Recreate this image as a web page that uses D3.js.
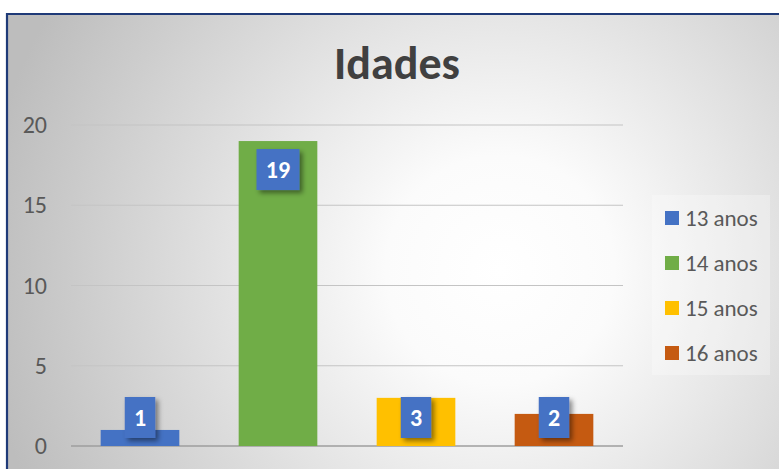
<!DOCTYPE html>
<html>
<head>
<meta charset="utf-8">
<script src="https://cdn.jsdelivr.net/npm/d3@7"></script>
<style>
  body { margin: 0; background: #fff; }
  #chart { width: 779px; height: 469px; overflow: hidden; }
  text { font-family: Carlito, "Liberation Sans", "Open Sans", sans-serif; }
</style>
</head>
<body>
<div id="chart"></div>
<script>
// chart data
var categories = ["13 anos", "14 anos", "15 anos", "16 anos"];
var values = [1, 19, 3, 2];
var colors = ["#4472C4", "#70AD47", "#FFC000", "#C55A11"];
var yTicks = [0, 5, 10, 15, 20];
var title = "Idades";

var W = 779, H = 469;
var margin = { top: 125, right: 156, bottom: 23, left: 71 };
var width = W - margin.left - margin.right,
    height = H - margin.top - margin.bottom;

var svg = d3.select("#chart")
  .append("svg")
  .attr("width", W)
  .attr("height", H);

var defs = svg.append("defs");
var grad = defs.append("radialGradient")
  .attr("id", "bg")
  .attr("gradientUnits", "userSpaceOnUse")
  .attr("cx", 500).attr("cy", 270).attr("r", 520);
grad.append("stop").attr("offset", "0%").attr("stop-color", "#ffffff");
grad.append("stop").attr("offset", "22%").attr("stop-color", "#fbfbfb");
grad.append("stop").attr("offset", "100%").attr("stop-color", "#bdbdbd");

var shadow = defs.append("filter").attr("id", "shadow")
  .attr("x", "-30%").attr("y", "-30%").attr("width", "180%").attr("height", "180%");
shadow.append("feDropShadow")
  .attr("dx", 3).attr("dy", 3).attr("stdDeviation", 2.5)
  .attr("flood-color", "#000").attr("flood-opacity", 0.45);

// background + border
svg.append("rect")
  .attr("x", 6).attr("y", 13)
  .attr("width", W + 10).attr("height", H + 10)
  .attr("fill", "url(#bg)");
svg.append("path")
  .attr("d", "M7," + (H + 5) + " V14 H" + (W + 5))
  .attr("fill", "none")
  .attr("stroke", "#1f3a78")
  .attr("stroke-width", 2.2);

// title
svg.append("text")
  .attr("x", 397).attr("y", 79)
  .attr("text-anchor", "middle")
  .style("font-size", "46px")
  .style("font-weight", "bold")
  .style("fill", "#404040")
  .text(title);

var g = svg.append("g")
  .attr("transform", "translate(" + margin.left + "," + margin.top + ")");

var x = d3.scaleBand()
  .domain(categories)
  .range([0, width])
  .paddingInner(0.43)
  .paddingOuter(0.215);

var y = d3.scaleLinear()
  .domain([0, 20])
  .range([height, 0]);

// gridlines
g.append("g")
  .selectAll("line")
  .data(yTicks)
  .enter()
  .append("line")
    .attr("x1", 0).attr("x2", width)
    .attr("y1", function(d) { return y(d); })
    .attr("y2", function(d) { return y(d); })
    .attr("stroke", function(d) { return d === 0 ? "#9e9e9e" : "#c4c4c4"; })
    .attr("stroke-width", function(d) { return d === 0 ? 1.4 : 1.1; });

// y axis labels
var yAxis = g.append("g")
  .call(d3.axisLeft(y).tickValues(yTicks).tickSize(0).tickPadding(24));
yAxis.select(".domain").remove();
yAxis.selectAll("text")
  .style("font-size", "24px")
  .style("fill", "#595959")
  .style("font-family", "Carlito, 'Liberation Sans', 'Open Sans', sans-serif");

// bars
g.append("g")
  .selectAll("rect")
  .data(values)
  .enter()
  .append("rect")
    .attr("x", function(d, i) { return x(categories[i]); })
    .attr("y", function(d) { return y(d); })
    .attr("width", x.bandwidth())
    .attr("height", function(d) { return height - y(d); })
    .attr("fill", function(d, i) { return colors[i]; });

// data labels
var boxH = 41;
var labels = g.append("g")
  .selectAll("g")
  .data(values)
  .enter()
  .append("g")
    .attr("transform", function(d, i) {
      var cx = x(categories[i]) + x.bandwidth() / 2;
      var top = Math.min(y(d) + 8, height - 8 - boxH);
      return "translate(" + cx + "," + top + ")";
    });

labels.append("rect")
  .attr("x", function(d) { return -(String(d).length * 12.5 + 18) / 2; })
  .attr("width", function(d) { return String(d).length * 12.5 + 18; })
  .attr("height", boxH)
  .attr("fill", "#4472C4")
  .attr("filter", "url(#shadow)");

labels.append("text")
  .attr("y", boxH / 2 + 8)
  .attr("text-anchor", "middle")
  .style("font-size", "24px")
  .style("font-weight", "bold")
  .style("fill", "#ffffff")
  .text(function(d) { return d; });

// legend
var legend = svg.append("g").attr("transform", "translate(652,195)");
legend.append("rect")
  .attr("width", 118).attr("height", 180)
  .attr("fill", "#ffffff").attr("fill-opacity", 0.28);

var items = legend.selectAll("g.item")
  .data(categories)
  .enter()
  .append("g")
    .attr("class", "item")
    .attr("transform", function(d, i) { return "translate(0," + (23 + i * 45) + ")"; });

items.append("rect")
  .attr("x", 13).attr("y", -7)
  .attr("width", 14).attr("height", 14)
  .attr("fill", function(d, i) { return colors[i]; });

items.append("text")
  .attr("x", 33).attr("y", 8)
  .style("font-size", "23px")
  .style("fill", "#595959")
  .text(function(d) { return d; });
</script>
</body>
</html>
